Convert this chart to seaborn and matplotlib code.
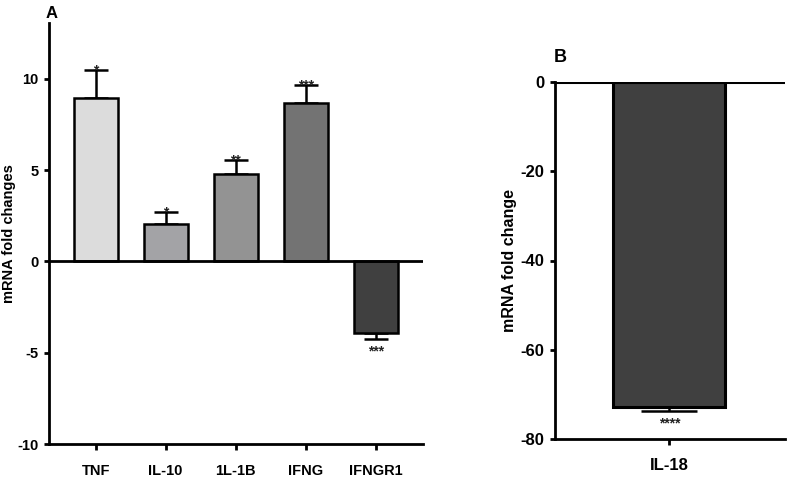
import matplotlib
matplotlib.use("Agg")
import matplotlib.pyplot as plt
import seaborn as sns
import pandas as pd
import numpy as np

# ---- data ----
genes_a = ["TNF", "IL-10", "1L-1B", "IFNG", "IFNGR1"]
fold_a = [8.95, 2.02, 4.79, 8.67, -3.95]
err_a = [1.5, 0.67, 0.77, 0.99, 0.31]
stars_a = ["*", "*", "**", "***", "***"]
colors_a = ["#dcdcdc", "#a3a3a7", "#939393", "#737373", "#404040"]

genes_b = ["IL-18"]
fold_b = [-72.8]
err_b = [0.9]
stars_b = ["****"]
colors_b = ["#404040"]

yticks_a = [-10, -5, 0, 5, 10]
yticks_b = [-80, -60, -40, -20, 0]

sns.set_style("ticks")
plt.rcParams["font.family"] = ["Liberation Sans", "DejaVu Sans"]
plt.rcParams["font.weight"] = "bold"
plt.rcParams["axes.unicode_minus"] = False
plt.rcParams["text.color"] = "black"
plt.rcParams["axes.labelcolor"] = "black"
plt.rcParams["xtick.color"] = "black"
plt.rcParams["ytick.color"] = "black"

fig = plt.figure(figsize=(7.88, 4.79), dpi=100)
axA = fig.add_axes([49/788, 1-444/479, (423-49)/788, (444-23)/479])
axB = fig.add_axes([555/788, 1-439.3/479, (785-555)/788, (439.3-81.7)/479])

dfA = pd.DataFrame({"gene": genes_a, "fold": fold_a})
dfB = pd.DataFrame({"gene": genes_b, "fold": fold_b})

sns.barplot(data=dfA, x="gene", y="fold", hue="gene", palette=colors_a,
            width=0.63, edgecolor="black", linewidth=1.8, errorbar=None,
            legend=False, ax=axA, zorder=3)
sns.barplot(data=dfB, x="gene", y="fold", hue="gene", palette=colors_b,
            width=0.98, edgecolor="black", linewidth=2.2, errorbar=None,
            legend=False, ax=axB, zorder=3)

def add_err(ax, vals, errs, stars, capsize, fs, off):
    x = np.arange(len(vals))
    lo = [e if v < 0 else 0 for v, e in zip(vals, errs)]
    hi = [e if v >= 0 else 0 for v, e in zip(vals, errs)]
    ax.errorbar(x, vals, yerr=[lo, hi], fmt="none", ecolor="black",
                elinewidth=1.8, capsize=capsize, capthick=1.8, zorder=2)
    for xi, v, e, s in zip(x, vals, errs, stars):
        if v >= 0:
            ax.text(xi, v + e - off[0], s, ha="center", va="bottom",
                    fontsize=fs, fontweight="bold", color="#222222", zorder=4)
        else:
            ax.text(xi, v - e - off[1], s, ha="center", va="top",
                    fontsize=fs, fontweight="bold", color="#222222", zorder=4)

add_err(axA, fold_a, err_a, stars_a, 8.3, 10, (0.4, 0.3))
add_err(axB, fold_b, err_b, stars_b, 20, 10, (0, 1.2))

# panel A axes
axA.set_xlim(-0.667, 4.676)
axA.set_ylim(-10, 13.05)
axA.set_yticks(yticks_a)
axA.axhline(0, color="black", lw=2, zorder=5)
axA.set_xlabel("")
axA.set_ylabel("mRNA fold changes", fontsize=10.5, fontweight="bold")
axA.yaxis.set_label_coords(-0.088, 0.5)

axB.set_xlim(-1.0, 1.01)
axB.set_ylim(-80, 0)
axB.set_yticks(yticks_b)
axB.axhline(0, color="black", lw=2.2, zorder=5)
axB.set_xlabel("")
axB.set_ylabel("mRNA fold change", fontsize=11.5, fontweight="bold")
axB.yaxis.set_label_coords(-0.165, 0.5)

for ax in (axA, axB):
    sns.despine(ax=ax)
    for sp in ("left", "bottom"):
        ax.spines[sp].set_linewidth(2)
        ax.spines[sp].set_color("black")
    ax.tick_params(axis="y", length=3.5, width=2, pad=4, labelsize=10.5)
    ax.tick_params(axis="x", length=4.5, width=2, pad=10, labelsize=10.5)
    for lab in ax.get_xticklabels() + ax.get_yticklabels():
        lab.set_fontweight("bold")

axB.tick_params(axis="y", labelsize=12)
axB.tick_params(axis="x", labelsize=12, pad=9)

fig.text(52/788, 1-13.5/479, "A", fontsize=12, fontweight="bold", ha="center", va="center")
fig.text(560/788, 1-58/479, "B", fontsize=13, fontweight="bold", ha="center", va="center")

fig.savefig("out.png", dpi=100)
